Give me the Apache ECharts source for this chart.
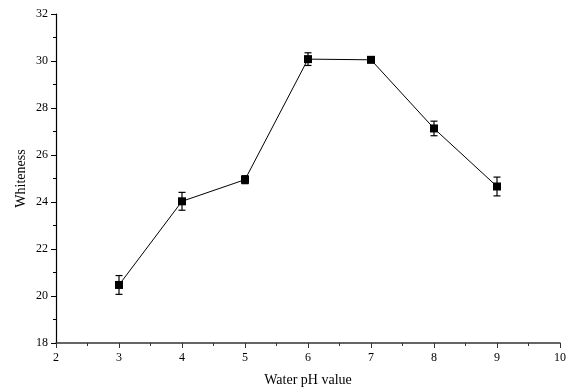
<!DOCTYPE html>
<html>
<head>
<meta charset="utf-8">
<script src="https://cdn.jsdelivr.net/npm/echarts@6/dist/echarts.min.js"></script>
<style>
html,body{margin:0;padding:0;background:#fff;}
#chart{width:571px;height:390px;}
</style>
</head>
<body>
<div id="chart"></div>
<script>
// Whiteness measured at each water pH, with standard deviation
const phValues = [3, 4, 5, 6, 7, 8, 9];
const whiteness = [20.47, 24.03, 24.95, 30.08, 30.05, 27.13, 24.66];
const stdDev = [0.40, 0.38, 0.17, 0.27, 0.12, 0.31, 0.40];

const lineData = phValues.map((x, i) => [x, whiteness[i]]);
const errorData = phValues.map((x, i) => [x, whiteness[i] - stdDev[i], whiteness[i] + stdDev[i]]);

const font = 'Liberation Serif, Times New Roman, serif';
const chart = echarts.init(document.getElementById('chart'));

chart.setOption({
  animation: false,
  grid: { left: 56, right: 11, top: 14, bottom: 47, outerBoundsMode: 'none', containLabel: false },
  xAxis: {
    type: 'value', min: 2, max: 10, interval: 1,
    name: 'Water pH value', nameLocation: 'middle', nameGap: 30, nameMoveOverlap: false,
    nameTextStyle: { fontFamily: font, fontSize: 14, color: '#000' },
    axisLine: { lineStyle: { color: '#333', width: 1.5 } },
    axisTick: { show: true, inside: false, length: 5, lineStyle: { color: '#333' } },
    minorTick: { show: true, splitNumber: 2, length: 3, lineStyle: { color: '#333' } },
    axisLabel: { fontFamily: font, fontSize: 12, color: '#000', margin: 9 },
    splitLine: { show: false }
  },
  yAxis: {
    type: 'value', min: 18, max: 32, interval: 2,
    name: 'Whiteness', nameLocation: 'middle', nameGap: 28, nameMoveOverlap: false,
    nameTextStyle: { fontFamily: font, fontSize: 14, color: '#000' },
    axisLine: { show: true, lineStyle: { color: '#000', width: 1.2 } },
    axisTick: { show: true, inside: false, length: 5, lineStyle: { color: '#000' } },
    minorTick: { show: true, splitNumber: 2, length: 3, lineStyle: { color: '#000' } },
    axisLabel: { fontFamily: font, fontSize: 12, color: '#000', margin: 8 },
    splitLine: { show: false }
  },
  series: [
    {
      type: 'line',
      data: lineData,
      symbol: 'rect',
      symbolSize: 8,
      itemStyle: { color: '#000' },
      lineStyle: { color: '#000', width: 1 },
      z: 3
    },
    {
      type: 'custom',
      data: errorData,
      z: 4,
      renderItem: function (params, api) {
        const x = api.value(0);
        const lo = api.coord([x, api.value(1)]);
        const hi = api.coord([x, api.value(2)]);
        const hw = 3.5;
        const style = { stroke: '#000', lineWidth: 1.2 };
        return {
          type: 'group',
          children: [
            { type: 'line', shape: { x1: lo[0], y1: lo[1], x2: hi[0], y2: hi[1] }, style: style },
            { type: 'line', shape: { x1: lo[0] - hw, y1: lo[1], x2: lo[0] + hw, y2: lo[1] }, style: style },
            { type: 'line', shape: { x1: hi[0] - hw, y1: hi[1], x2: hi[0] + hw, y2: hi[1] }, style: style }
          ]
        };
      }
    }
  ]
});
</script>
</body>
</html>
